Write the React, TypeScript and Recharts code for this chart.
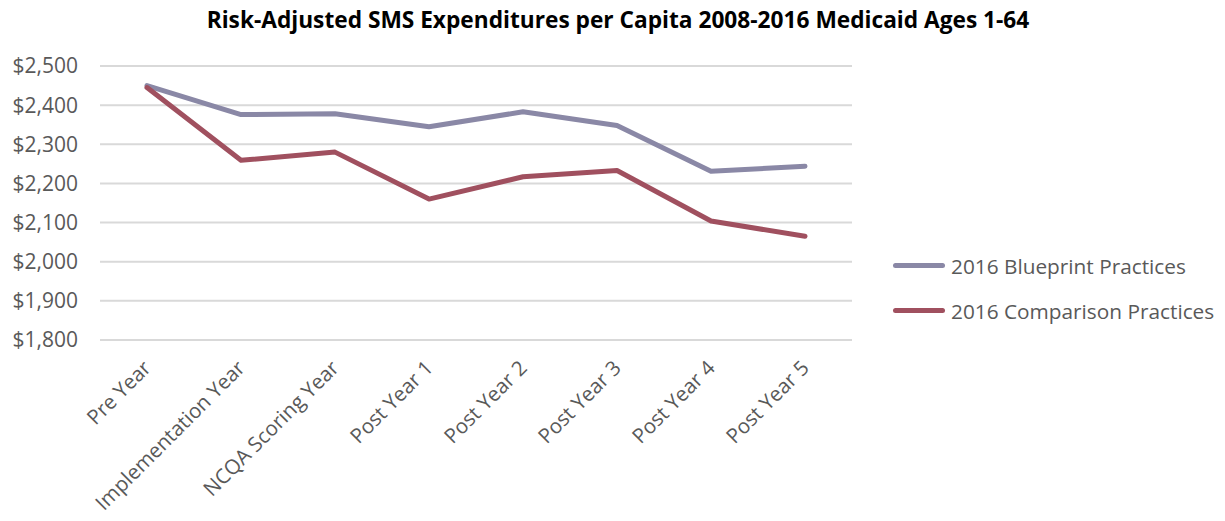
import { LineChart, Line, XAxis, YAxis, CartesianGrid, Legend } from "recharts";

const categories = [
  "Pre Year",
  "Implementation Year",
  "NCQA Scoring Year",
  "Post Year 1",
  "Post Year 2",
  "Post Year 3",
  "Post Year 4",
  "Post Year 5",
];
const blueprint = [2450, 2376, 2378, 2345, 2383, 2348, 2231, 2244];
const comparison = [2445, 2259, 2280, 2160, 2217, 2233, 2104, 2065];
const yTicks = [1800, 1900, 2000, 2100, 2200, 2300, 2400, 2500];

const seriesNames = ["2016 Blueprint Practices", "2016 Comparison Practices"];
const colors = ["#8A88A6", "#A0505F"];

const data = categories.map((c, i) => ({ name: c, blueprint: blueprint[i], comparison: comparison[i] }));

const FONT = "'Open Sans', Lato, sans-serif";

function XTick(props: any) {
  const { x, y, payload } = props;
  return (
    <g transform={`translate(${x + 1},${y + 17})`}>
      <text transform="rotate(-45)" textAnchor="end" fill="#595959" fontSize={20.5} fontFamily={FONT} dy={6}>
        {payload.value}
      </text>
    </g>
  );
}

function LegendBox() {
  return (
    <div style={{ fontFamily: FONT, fontSize: 20.8, color: "#595959" }}>
      {seriesNames.map((n, i) => (
        <div key={n} style={{ display: "flex", alignItems: "center", height: 45 }}>
          <span style={{ width: 52, height: 5, borderRadius: 3, background: colors[i], marginRight: 6 }} />
          <span>{n}</span>
        </div>
      ))}
    </div>
  );
}

export default function App() {
  return (
    <div style={{ position: "absolute", left: 0, top: 0, width: 1225, height: 521, background: "#fff" }}>
      <div
        style={{
          position: "absolute",
          left: 0,
          width: 1236,
          top: 4,
          textAlign: "center",
          fontFamily: FONT,
          fontWeight: 700,
          fontSize: 22.7,
          color: "#000",
        }}
      >
        Risk-Adjusted SMS Expenditures per Capita 2008-2016 Medicaid Ages 1-64
      </div>
      <LineChart width={1225} height={521} data={data} margin={{ top: 66, right: 43, bottom: 0, left: 0 }}>
        <CartesianGrid vertical={false} stroke="#D9D9D9" strokeWidth={2} />
        <XAxis
          dataKey="name"
          axisLine={false}
          tickLine={false}
          height={181}
          tick={<XTick />}
          interval={0}
          padding={{ left: 47, right: 47 }}
        />
        <YAxis
          domain={[1800, 2500]}
          ticks={yTicks}
          interval={0}
          width={100}
          axisLine={false}
          tickLine={false}
          tickSize={0}
          tickMargin={22}
          tickFormatter={(v: number) => "$" + v.toLocaleString("en-US")}
          tick={{ fill: "#595959", fontSize: 21, fontFamily: FONT }}
        />
        <Legend
          content={<LegendBox />}
          layout="vertical"
          align="right"
          verticalAlign="middle"
          wrapperStyle={{ left: 893, top: 243, width: 330 }}
        />
        <Line dataKey="blueprint" name={seriesNames[0]} stroke={colors[0]} strokeWidth={5} dot={false} isAnimationActive={false} strokeLinecap="round" strokeLinejoin="round" />
        <Line dataKey="comparison" name={seriesNames[1]} stroke={colors[1]} strokeWidth={5} dot={false} isAnimationActive={false} strokeLinecap="round" strokeLinejoin="round" />
      </LineChart>
    </div>
  );
}
